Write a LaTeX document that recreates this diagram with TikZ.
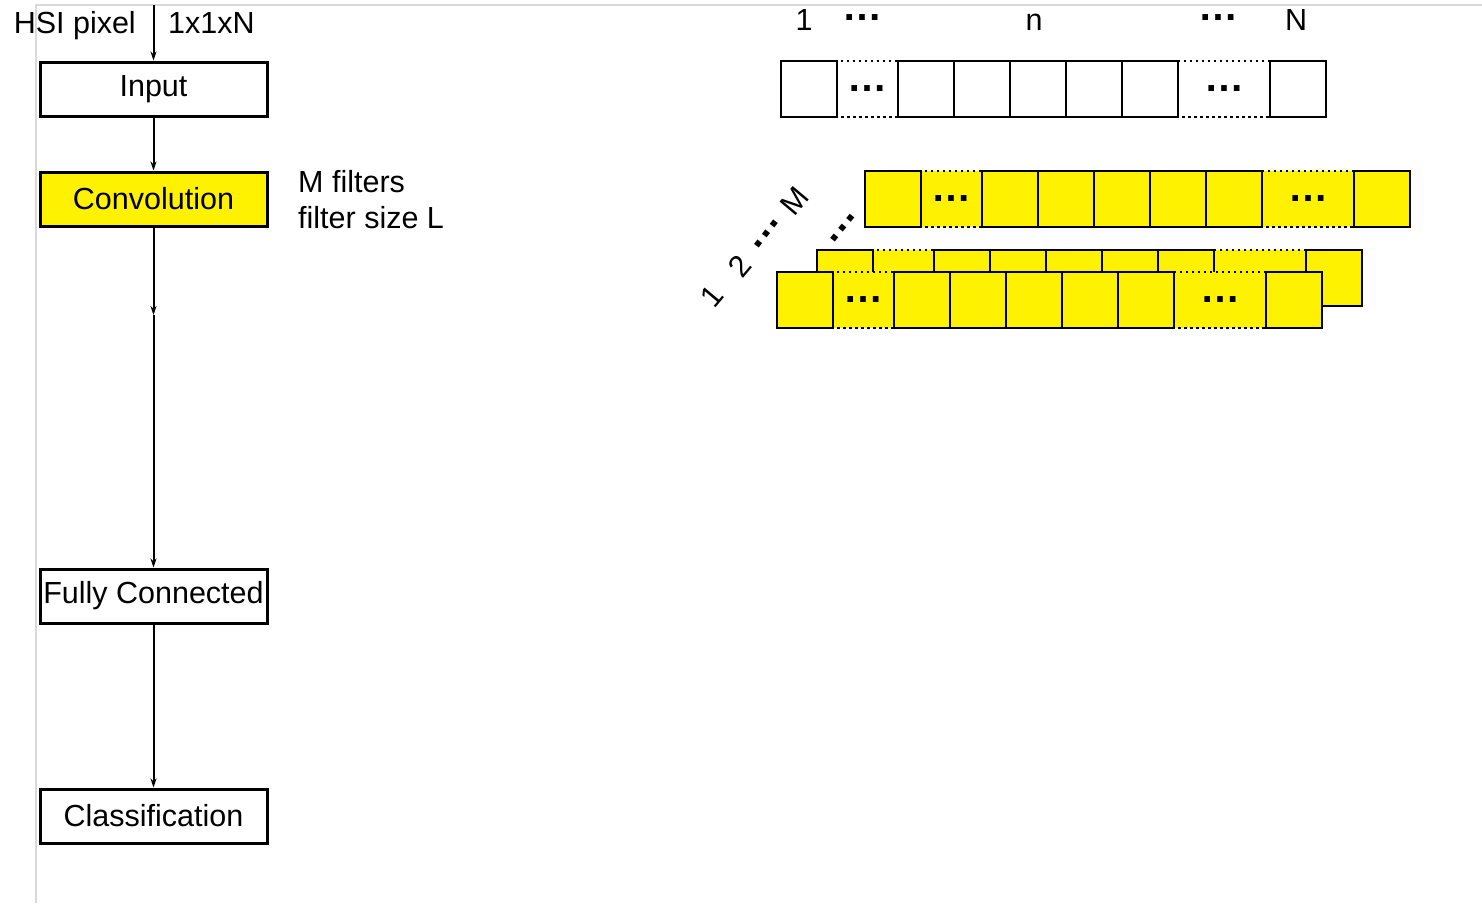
\documentclass[tikz,border=0pt]{standalone}
\usepackage{fontspec}
\setmainfont{Liberation Sans}
\usepackage{xcolor}
\usetikzlibrary{arrows.meta,positioning}
\tikzset{
  lbox/.style={rectangle, draw=black, line width=3pt, fill=#1,
               minimum width=227pt, minimum height=54pt, inner sep=0pt,
               font=\fontsize{30.5}{36}\selectfont},
  larr/.style={-{Stealth[length=9pt,width=6pt]}, line width=2pt},
  ltxt/.style={inner sep=0pt, font=\fontsize{30.5}{36}\selectfont},
  ldots/.style={inner sep=0pt, font=\fontsize{40}{40}\selectfont\bfseries},
  cell/.style={draw=black, line width=2.5pt, fill=#1},
  celldot/.style={draw=black, line width=2.5pt,
                  dash pattern=on 2.5pt off 3.5pt, fill=#1},
  scrframe/.style={draw=black!15, line width=1.5pt}
}
% one row of cells: x0, y0, fill, name prefix
\newcommand{\cellrow}[4]{%
  \begin{scope}[shift={(#1,#2)}]
    \draw[celldot=#3] (56,0) rectangle (117,56);
    \draw[celldot=#3] (397,0) rectangle (489,56);
    \foreach \a in {0,117,173,229,285,341,489}
      \draw[cell=#3] (\a,0) rectangle ++(56,56);
    \node[ldots] (#4a) at (86.5,28) {…};
    \node[ldots] (#4b) at (443,28) {…};
  \end{scope}}

\begin{document}
\begin{tikzpicture}[x=1pt, y=-1pt]
\useasboundingbox (0,0) rectangle (1482,903);
\draw[scrframe] (36,903) -- (36,5) -- (1482,5);

% layer stack
\node[lbox=white] (input) at (153.5,89) {Input};
\node[lbox=yellow, below=53pt of input] (conv) {Convolution};
\node[lbox=white, below=340pt of conv] (fc) {Fully Connected};
\node[lbox=white, below=163pt of fc] (cls) {Classification};
\coordinate (pixtop) at (153.5,5);
\coordinate (convmid) at (153.5,315);
\draw[larr] (pixtop) -- (input);
\draw[larr] (input) -- (conv);
\draw[larr] (conv) -- (convmid);
\draw[larr] (convmid) -- (fc);
\draw[larr] (fc) -- (cls);

\node[ltxt, anchor=base east] (hsi) at (136,33) {HSI pixel};
\node[ltxt, anchor=base west] (dim) at (168,33) {1x1xN};
\node[ltxt, anchor=base west] (filtm) at (298,192) {M filters};
\node[ltxt, anchor=base west] (filtl) at (298,228) {filter size L};

% input vector
\cellrow{781}{61}{white}{t}
\node[ltxt, anchor=base] (lone) at (804,30) {1};
\node[ldots] (ldotl) at (862,18) {…};
\node[ltxt, anchor=base] (lmid) at (1034,30) {n};
\node[ldots] (ldotr) at (1218,18) {…};
\node[ltxt, anchor=base] (lend) at (1296,30) {N};

% feature maps
\cellrow{865}{171}{yellow}{m}
\cellrow{817}{250}{yellow}{s}
\cellrow{777}{272}{yellow}{f}
\node[ltxt, rotate=50] (fone) at (712,296) {1};
\node[ltxt, rotate=50] (ftwo) at (740,266) {2};
\node[ldots, rotate=52] (fdots) at (766,234) {…};
\node[ltxt, rotate=50] (fM) at (795,201) {M};
\node[ldots, rotate=51] (gap) at (843,228) {…};
\end{tikzpicture}
\end{document}
